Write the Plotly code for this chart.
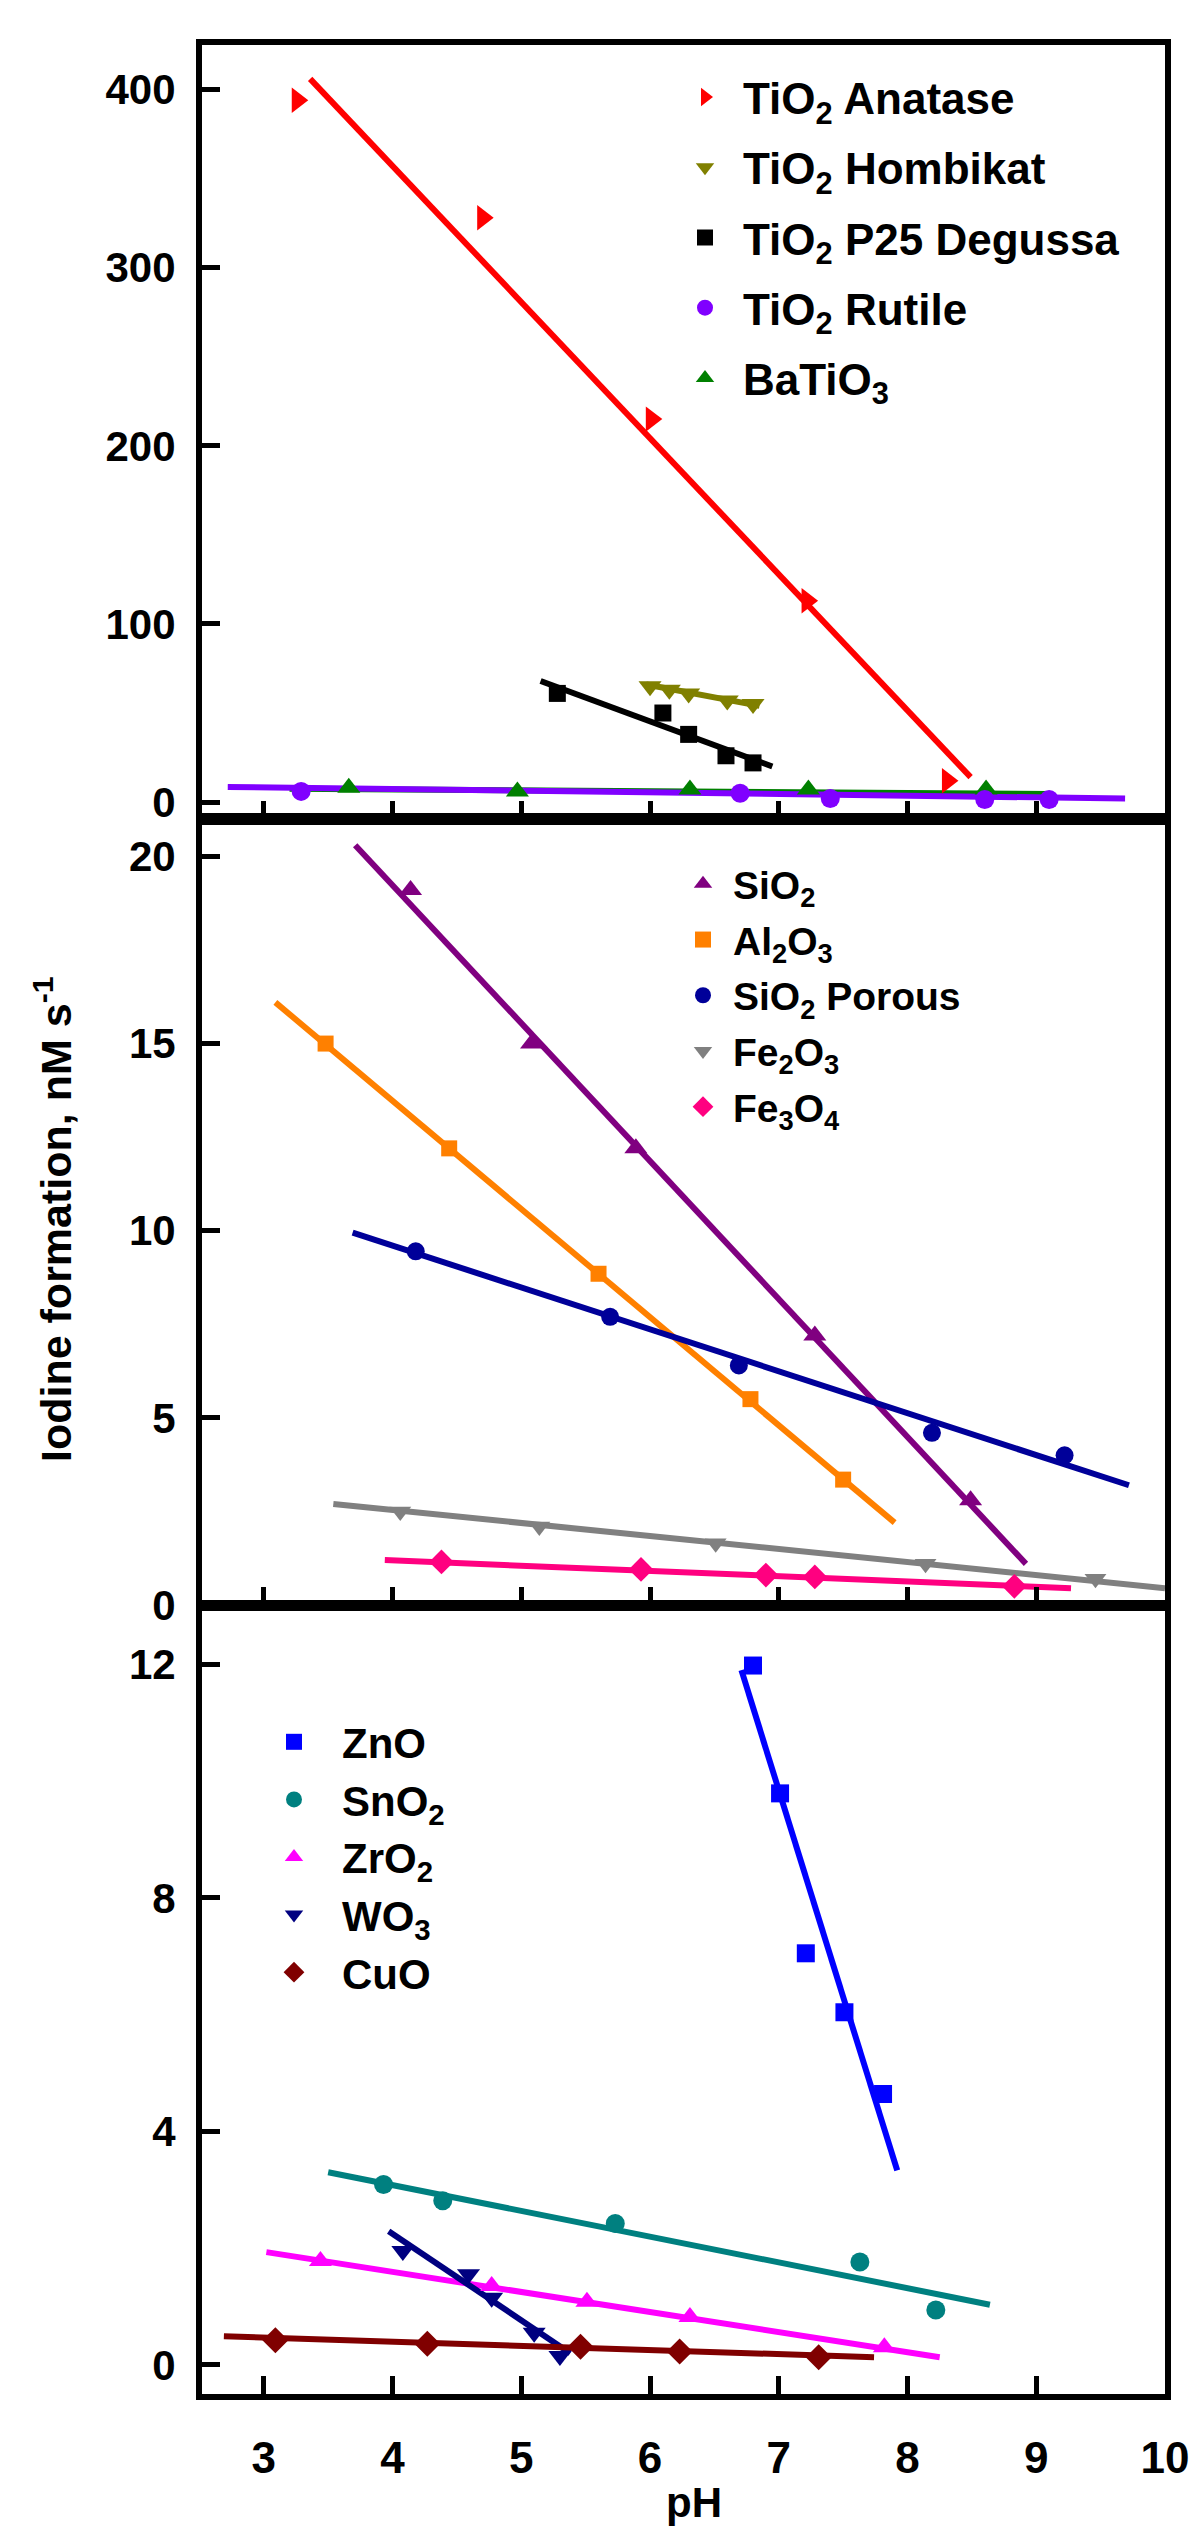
import plotly.graph_objects as go

# ---------------- data ----------------
# Top panel: TiO2 family
anatase_x = [3.26, 4.70, 6.01, 7.22, 8.31]
anatase_y = [394, 328, 215, 113, 12]
anatase_fit_x = [3.36, 8.49]
anatase_fit_y = [406, 14]

hombikat_x = [6.00, 6.15, 6.30, 6.60, 6.80]
hombikat_y = [65, 63, 61, 57, 55]
hombikat_fit_x = [5.97, 6.85]
hombikat_fit_y = [66, 54]

p25_x = [5.28, 6.10, 6.30, 6.59, 6.80]
p25_y = [61, 50, 38, 26, 22]
p25_fit_x = [5.15, 6.95]
p25_fit_y = [68, 20]

rutile_x = [3.29, 6.70, 7.40, 8.60, 9.10]
rutile_y = [6, 5, 2, 1.5, 1.5]
rutile_fit_x = [2.72, 9.69]
rutile_fit_y = [8.5, 2.0]

batio3_x = [3.66, 4.97, 6.31, 7.23, 8.61]
batio3_y = [8, 6, 7, 7, 7]
batio3_fit_x = [3.20, 9.10]
batio3_fit_y = [7.5, 4.5]

# Middle panel
sio2_x = [4.14, 5.08, 5.89, 7.28, 8.49]
sio2_y = [19.1, 15.0, 12.2, 7.2, 2.8]
sio2_fit_x = [3.71, 8.92]
sio2_fit_y = [20.3, 1.1]

al2o3_x = [3.48, 4.44, 5.60, 6.78, 7.50]
al2o3_y = [15.0, 12.2, 8.85, 5.5, 3.35]
al2o3_fit_x = [3.09, 7.90]
al2o3_fit_y = [16.1, 2.2]

sio2p_x = [4.18, 5.69, 6.69, 8.19, 9.22]
sio2p_y = [9.45, 7.7, 6.4, 4.6, 4.0]
sio2p_fit_x = [3.69, 9.72]
sio2p_fit_y = [9.95, 3.2]

fe2o3_x = [4.06, 5.14, 6.51, 8.14, 9.46]
fe2o3_y = [2.5, 2.1, 1.65, 1.1, 0.7]
fe2o3_fit_x = [3.54, 10.0]
fe2o3_fit_y = [2.7, 0.45]

fe3o4_x = [4.38, 5.93, 6.90, 7.28, 8.83]
fe3o4_y = [1.15, 0.95, 0.8, 0.75, 0.5]
fe3o4_fit_x = [3.94, 9.27]
fe3o4_fit_y = [1.2, 0.45]

# Bottom panel
zno_x = [6.80, 7.01, 7.21, 7.51, 7.81]
zno_y = [11.98, 9.79, 7.05, 6.04, 4.64]
zno_fit_x = [6.71, 7.92]
zno_fit_y = [11.9, 3.33]

sno2_x = [3.93, 4.39, 5.73, 7.63, 8.22]
sno2_y = [3.09, 2.81, 2.42, 1.76, 0.94]
sno2_fit_x = [3.50, 8.64]
sno2_fit_y = [3.30, 1.03]

zro2_x = [3.44, 4.77, 5.51, 6.31, 7.82]
zro2_y = [1.78, 1.35, 1.08, 0.82, 0.30]
zro2_fit_x = [3.02, 8.25]
zro2_fit_y = [1.93, 0.13]

wo3_x = [4.08, 4.59, 4.77, 5.10, 5.30]
wo3_y = [1.95, 1.55, 1.15, 0.55, 0.15]
wo3_fit_x = [3.97, 5.38]
wo3_fit_y = [2.29, 0.2]

cuo_x = [3.09, 4.27, 5.46, 6.23, 7.31]
cuo_y = [0.42, 0.36, 0.31, 0.23, 0.13]
cuo_fit_x = [2.69, 7.74]
cuo_fit_y = [0.49, 0.13]

x_ticks = [3, 4, 5, 6, 7, 8, 9, 10]
top_y_ticks = [0, 100, 200, 300, 400]
mid_y_ticks = [0, 5, 10, 15, 20]
bot_y_ticks = [0, 4, 8, 12]

# ---------------- figure ----------------
FONT = "Arial, Liberation Sans, Helvetica, sans-serif"

series = [
    # name, x, y, fit_x, fit_y, color, symbol, size, panel, legend
    ("TiO<sub>2</sub> Anatase", anatase_x, anatase_y, anatase_fit_x, anatase_fit_y, "#FF0000", "triangle-right", 22, 3, "legend"),
    ("TiO<sub>2</sub> Hombikat", hombikat_x, hombikat_y, hombikat_fit_x, hombikat_fit_y, "#808000", "triangle-down", 20, 3, "legend"),
    ("TiO<sub>2</sub> P25 Degussa", p25_x, p25_y, p25_fit_x, p25_fit_y, "#000000", "square", 17, 3, "legend"),
    ("BaTiO<sub>3</sub>", batio3_x, batio3_y, batio3_fit_x, batio3_fit_y, "#008000", "triangle-up", 20, 3, "legend"),
    ("TiO<sub>2</sub> Rutile", rutile_x, rutile_y, rutile_fit_x, rutile_fit_y, "#8000FF", "circle", 19, 3, "legend"),
    ("SiO<sub>2</sub>", sio2_x, sio2_y, sio2_fit_x, sio2_fit_y, "#800080", "triangle-up", 20, 2, "legend2"),
    ("Al<sub>2</sub>O<sub>3</sub>", al2o3_x, al2o3_y, al2o3_fit_x, al2o3_fit_y, "#FF8000", "square", 16, 2, "legend2"),
    ("SiO<sub>2</sub> Porous", sio2p_x, sio2p_y, sio2p_fit_x, sio2p_fit_y, "#000099", "circle", 18, 2, "legend2"),
    ("Fe<sub>2</sub>O<sub>3</sub>", fe2o3_x, fe2o3_y, fe2o3_fit_x, fe2o3_fit_y, "#808080", "triangle-down", 19, 2, "legend2"),
    ("Fe<sub>3</sub>O<sub>4</sub>", fe3o4_x, fe3o4_y, fe3o4_fit_x, fe3o4_fit_y, "#FF0080", "diamond", 19, 2, "legend2"),
    ("ZnO", zno_x, zno_y, zno_fit_x, zno_fit_y, "#0000FF", "square", 18, 1, "legend3"),
    ("SnO<sub>2</sub>", sno2_x, sno2_y, sno2_fit_x, sno2_fit_y, "#008080", "circle", 19, 1, "legend3"),
    ("ZrO<sub>2</sub>", zro2_x, zro2_y, zro2_fit_x, zro2_fit_y, "#FF00FF", "triangle-up", 20, 1, "legend3"),
    ("WO<sub>3</sub>", wo3_x, wo3_y, wo3_fit_x, wo3_fit_y, "#000080", "triangle-down", 20, 1, "legend3"),
    ("CuO", cuo_x, cuo_y, cuo_fit_x, cuo_fit_y, "#800000", "diamond", 20, 1, "legend3"),
]

# legend order as in reference
legend_rank = {
    "TiO<sub>2</sub> Anatase": 1, "TiO<sub>2</sub> Hombikat": 2, "TiO<sub>2</sub> P25 Degussa": 3,
    "TiO<sub>2</sub> Rutile": 4, "BaTiO<sub>3</sub>": 5,
}

fig = go.Figure()
axis_suffix = {1: "", 2: "2", 3: "3"}

for i, (name, xs, ys, fx, fy, color, symbol, size, panel, leg) in enumerate(series):
    sfx = axis_suffix[panel]
    fig.add_trace(go.Scatter(
        x=fx, y=fy, mode="lines", line=dict(color=color, width=6),
        showlegend=False, hoverinfo="skip",
        xaxis="x" + sfx, yaxis="y" + sfx,
    ))
for i, (name, xs, ys, fx, fy, color, symbol, size, panel, leg) in enumerate(series):
    sfx = axis_suffix[panel]
    fig.add_trace(go.Scatter(
        x=xs, y=ys, mode="markers", name=name,
        marker=dict(color=color, symbol=symbol, size=size, line=dict(width=0)),
        legend=leg, legendgroup=name, legendrank=legend_rank.get(name, 1000 + i),
        xaxis="x" + sfx, yaxis="y" + sfx,
    ))

# plot area in pixels: left 194, right 1157, top 37, bottom 2386
W, H = 1200, 2533
L, R, T, B = 194, 1157, 37, 2386
pw, ph = R - L, B - T

def py(p):
    return (B - p) / ph

def px(p):
    return (p - L) / pw

bot_dom = [0, py(1598)]
mid_dom = [py(1597), py(811)]
top_dom = [py(811), 1]

xcommon = dict(
    range=[2.52, 10], tickvals=x_ticks, ticks="inside", ticklen=18, tickwidth=5,
    tickcolor="black", showline=True, linewidth=6, linecolor="black", mirror=True,
    showgrid=False, zeroline=False,
    tickfont=dict(family=FONT, size=44, color="black", weight="bold"),
)
ycommon = dict(
    ticks="inside", ticklen=18, tickwidth=5, tickcolor="black",
    showline=True, linewidth=6, linecolor="black", mirror=True,
    showgrid=False, zeroline=False, ticklabelstandoff=12,
    tickfont=dict(family=FONT, size=42, color="black", weight="bold"),
)

legcommon = dict(
    bgcolor="rgba(0,0,0,0)", borderwidth=0, xanchor="left", yanchor="top",
    itemsizing="trace",
)

fig.update_layout(
    width=W, height=H,
    margin=dict(l=L, r=W - R, t=T, b=H - B, pad=0),
    paper_bgcolor="white", plot_bgcolor="white",
    font=dict(family=FONT, color="black"),
    xaxis=dict(xcommon, domain=[0, 1], anchor="y", showticklabels=True, ticklabelstandoff=20),
    yaxis=dict(ycommon, domain=bot_dom, anchor="x", range=[-0.5, 13], tickvals=bot_y_ticks),
    xaxis2=dict(xcommon, domain=[0, 1], anchor="y2", showticklabels=False, matches="x"),
    yaxis2=dict(ycommon, domain=mid_dom, anchor="x2", range=[0, 21], tickvals=mid_y_ticks),
    xaxis3=dict(xcommon, domain=[0, 1], anchor="y3", showticklabels=False, matches="x"),
    yaxis3=dict(ycommon, domain=top_dom, anchor="x3", range=[-9.5, 425], tickvals=top_y_ticks),
    legend=dict(legcommon, x=px(659), y=py(54), itemwidth=66, tracegroupgap=10,
                font=dict(family=FONT, size=44, color="black", weight="bold")),
    legend2=dict(legcommon, x=px(665), y=py(844), itemwidth=50, tracegroupgap=2,
                 font=dict(family=FONT, size=39, color="black", weight="bold")),
    legend3=dict(legcommon, x=px(238), y=py(1700), itemwidth=86, tracegroupgap=0,
                 font=dict(family=FONT, size=42, color="black", weight="bold")),
    annotations=[
        dict(
            text="<b>Iodine formation, nM s<sup>-1</sup></b>", textangle=-90,
            xref="paper", yref="paper", x=px(45), y=py(1212),
            xanchor="center", yanchor="middle", showarrow=False,
            font=dict(family=FONT, size=43, color="black"),
        ),
        dict(
            text="<b>pH</b>",
            xref="paper", yref="paper", x=px(686), y=py(2494),
            xanchor="center", yanchor="middle", showarrow=False,
            font=dict(family=FONT, size=42, color="black"),
        ),
    ],
)

fig.write_html("out.html")
